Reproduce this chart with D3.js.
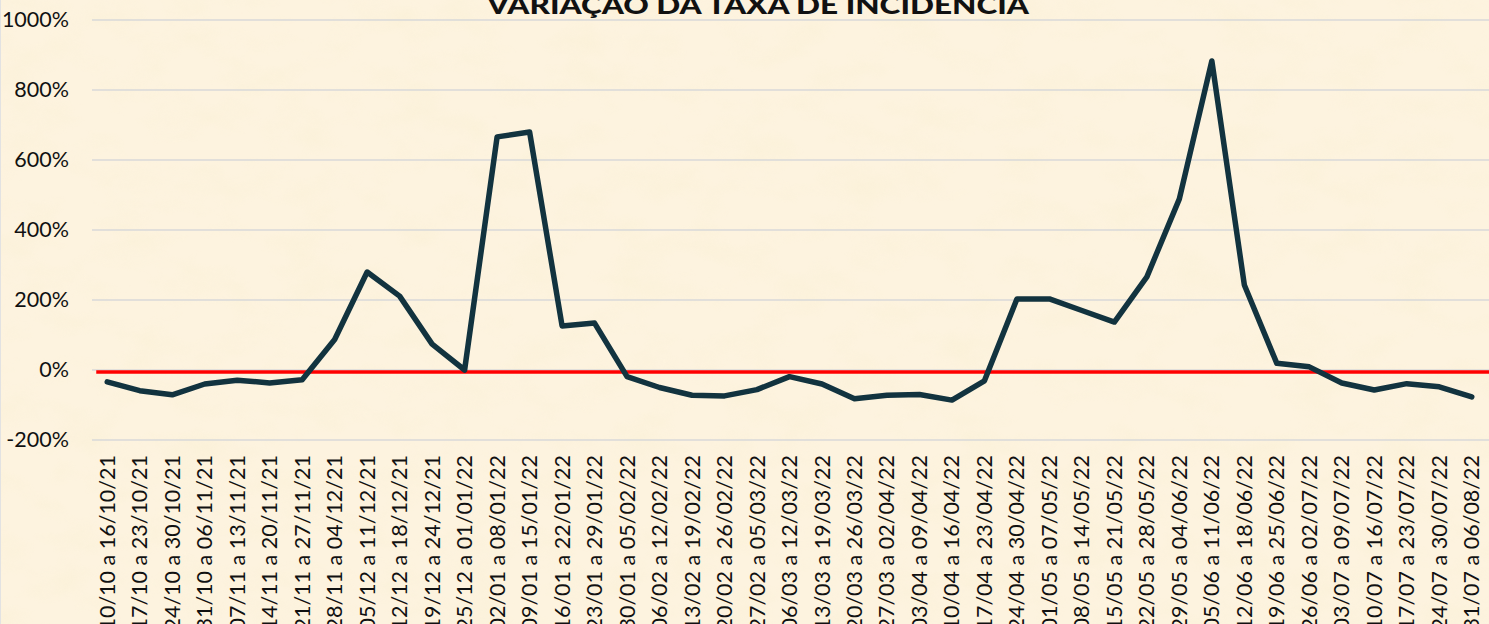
<!DOCTYPE html>
<html>
<head>
<meta charset="utf-8">
<script src="https://cdn.jsdelivr.net/npm/d3@7"></script>
<style>
  html, body { margin: 0; padding: 0; background: #fcf1db; }
  svg { display: block; }
  text { font-family: Lato, "Noto Sans", sans-serif; fill: #111; }
</style>
</head>
<body>
<svg width="1489" height="624"></svg>
<script>
// semanas (categorias)
var semanas = [
  "10/10 a 16/10/21", "17/10 a 23/10/21", "24/10 a 30/10/21", "31/10 a 06/11/21",
  "07/11 a 13/11/21", "14/11 a 20/11/21", "21/11 a 27/11/21", "28/11 a 04/12/21",
  "05/12 a 11/12/21", "12/12 a 18/12/21", "19/12 a 24/12/21", "25/12 a 01/01/22",
  "02/01 a 08/01/22", "09/01 a 15/01/22", "16/01 a 22/01/22", "23/01 a 29/01/22",
  "30/01 a 05/02/22", "06/02 a 12/02/22", "13/02 a 19/02/22", "20/02 a 26/02/22",
  "27/02 a 05/03/22", "06/03 a 12/03/22", "13/03 a 19/03/22", "20/03 a 26/03/22",
  "27/03 a 02/04/22", "03/04 a 09/04/22", "10/04 a 16/04/22", "17/04 a 23/04/22",
  "24/04 a 30/04/22", "01/05 a 07/05/22", "08/05 a 14/05/22", "15/05 a 21/05/22",
  "22/05 a 28/05/22", "29/05 a 04/06/22", "05/06 a 11/06/22", "12/06 a 18/06/22",
  "19/06 a 25/06/22", "26/06 a 02/07/22", "03/07 a 09/07/22", "10/07 a 16/07/22",
  "17/07 a 23/07/22", "24/07 a 30/07/22", "31/07 a 06/08/22"
];

// variação da taxa de incidência (%)
var variacao = [
  -34, -59, -71, -40, -29, -37, -28, 87, 280, 211, 74, 0,
  666, 680, 126, 134, -19, -50, -72, -74, -56, -19, -40, -82,
  -72, -70, -86, -31, 203, 203, 170, 137, 266, 489, 883, 243,
  19, 9, -37, -57, -39, -48, -77
];

var yTicks = [-200, 0, 200, 400, 600, 800, 1000];
var titulo = "VARIAÇÃO DA TAXA DE INCIDÊNCIA";

var svg = d3.select("svg");
var width = 1489, height = 624;

// fundo tipo pergaminho
var defs = svg.append("defs");
var f = defs.append("filter").attr("id", "parch")
    .attr("x", 0).attr("y", 0).attr("width", "100%").attr("height", "100%");
f.append("feTurbulence")
    .attr("type", "fractalNoise")
    .attr("baseFrequency", "0.018 0.03")
    .attr("numOctaves", 4)
    .attr("seed", 7);
f.append("feColorMatrix")
    .attr("type", "matrix")
    .attr("values", "0 0 0 0 0.95  0 0 0 0 0.87  0 0 0 0 0.66  1.8 0 0 0 -0.8");

svg.append("rect")
    .attr("width", width).attr("height", height)
    .attr("fill", "#fdf3df");
svg.append("rect")
    .attr("width", width).attr("height", height)
    .attr("filter", "url(#parch)")
    .attr("opacity", 0.6);

svg.append("line")
    .attr("x1", 0.5).attr("x2", 0.5)
    .attr("y1", 0).attr("y2", height)
    .attr("stroke", "#e2e2e2").attr("stroke-width", 1);

var x = d3.scaleBand()
    .domain(semanas)
    .range([91, 1488]);

var y = d3.scaleLinear()
    .domain([-200, 1000])
    .range([440, 20]);

// grade
svg.append("g")
  .selectAll("line")
    .data(yTicks)
    .enter()
  .append("line")
    .attr("x1", 92)
    .attr("x2", width)
    .attr("y1", function(d) { return y(d); })
    .attr("y2", function(d) { return y(d); })
    .attr("stroke", "#d9d9d9")
    .attr("stroke-width", 1.5);

// eixo y
var yAxis = svg.append("g")
    .attr("transform", "translate(69,0)")
    .call(d3.axisLeft(y).tickValues(yTicks).tickSize(0).tickPadding(0)
        .tickFormat(function(d) { return d + "%"; }));
yAxis.select(".domain").remove();
yAxis.selectAll("text")
    .attr("font-size", 21.5)
    .attr("fill", "#0d0d0d")
    .style("font-family", "Lato, sans-serif");

// eixo x
var xAxis = svg.append("g")
    .attr("transform", "translate(0,455)")
    .call(d3.axisBottom(x).tickSize(0).tickPadding(0));
xAxis.select(".domain").remove();
xAxis.selectAll("text")
    .attr("transform", "rotate(-90)")
    .attr("x", 0)
    .attr("y", 0)
    .attr("dy", "0.35em")
    .attr("text-anchor", "end")
    .attr("font-size", 21.5)
    .attr("fill", "#0d0d0d")
    .style("font-family", "Lato, sans-serif");

// linha vermelha de referência
svg.append("line")
    .attr("x1", x(semanas[0]) + x.bandwidth() / 2 - 11)
    .attr("x2", width)
    .attr("y1", y(0) + 2)
    .attr("y2", y(0) + 2)
    .attr("stroke", "#ff0000")
    .attr("stroke-width", 3.5);

// série
var line = d3.line()
    .x(function(d, i) { return x(semanas[i]) + x.bandwidth() / 2; })
    .y(function(d) { return y(d); });

svg.append("path")
    .datum(variacao)
    .attr("d", line)
    .attr("fill", "none")
    .attr("stroke", "#12333f")
    .attr("stroke-width", 5.5)
    .attr("stroke-linejoin", "round")
    .attr("stroke-linecap", "round");

// título
svg.append("text")
    .attr("x", 758)
    .attr("y", 14)
    .attr("text-anchor", "middle")
    .attr("font-size", 25)
    .attr("font-weight", 900)
    .attr("textLength", 542)
    .attr("lengthAdjust", "spacingAndGlyphs")
    .text(titulo);
</script>
</body>
</html>
